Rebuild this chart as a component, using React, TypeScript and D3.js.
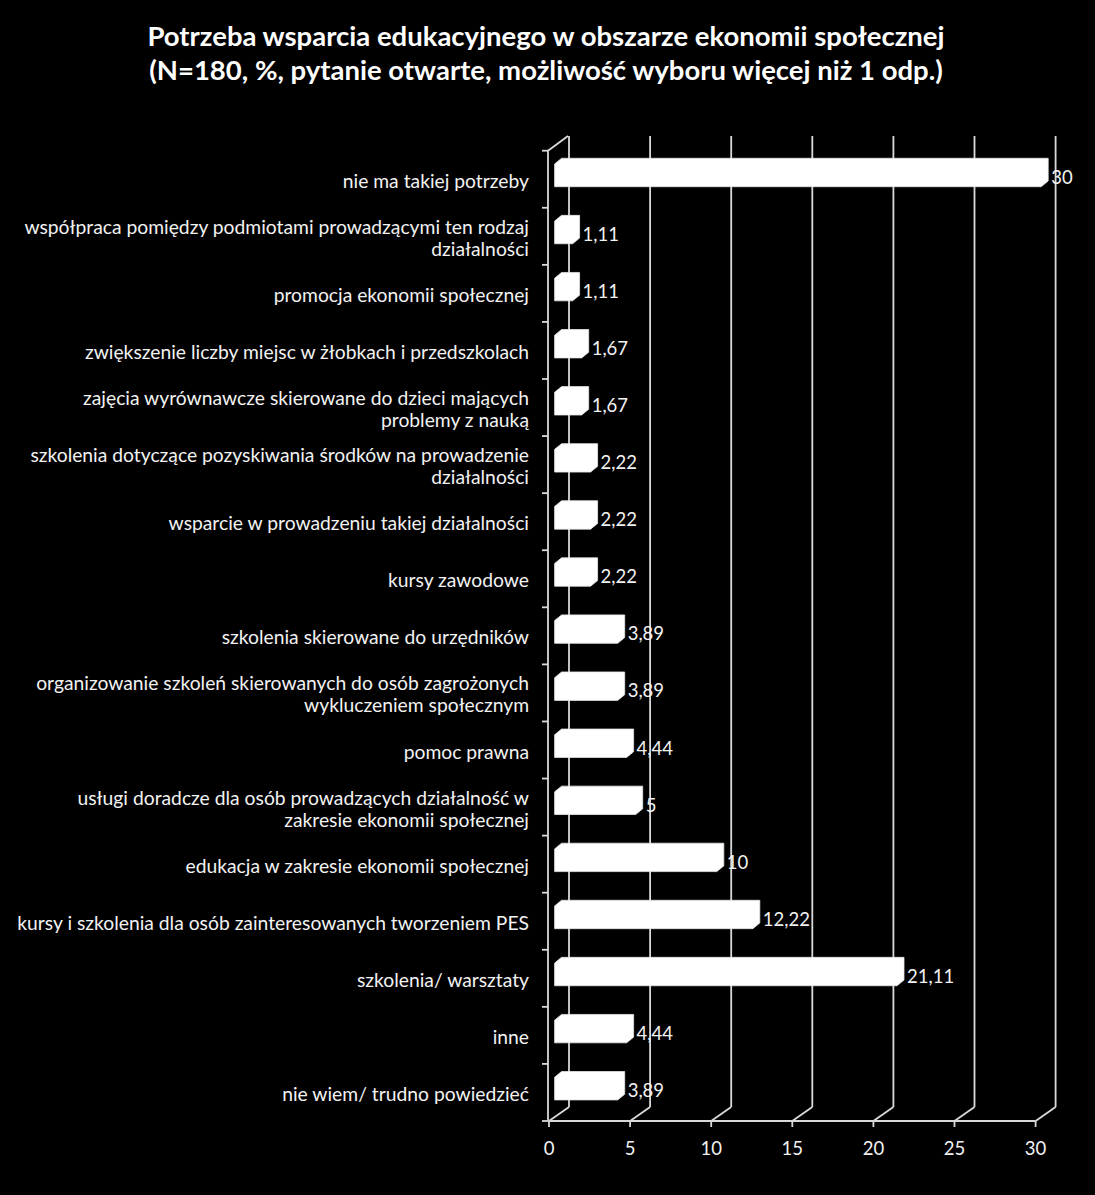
import React from "react";
import * as d3 from "d3";

const categories: string[][] = [
  ["nie ma takiej potrzeby"],
  ["współpraca pomiędzy podmiotami prowadzącymi ten rodzaj", "działalności"],
  ["promocja ekonomii społecznej"],
  ["zwiększenie liczby miejsc w żłobkach i przedszkolach"],
  ["zajęcia wyrównawcze skierowane do dzieci mających", "problemy z nauką"],
  ["szkolenia dotyczące pozyskiwania środków na prowadzenie", "działalności"],
  ["wsparcie w prowadzeniu takiej działalności"],
  ["kursy zawodowe"],
  ["szkolenia skierowane do urzędników"],
  ["organizowanie szkoleń skierowanych do osób zagrożonych", "wykluczeniem społecznym"],
  ["pomoc prawna"],
  ["usługi doradcze dla osób prowadzących działalność w", "zakresie ekonomii społecznej"],
  ["edukacja w zakresie ekonomii społecznej"],
  ["kursy i szkolenia dla osób zainteresowanych tworzeniem PES"],
  ["szkolenia/ warsztaty"],
  ["inne"],
  ["nie wiem/ trudno powiedzieć"],
];
const values: number[] = [30, 1.11, 1.11, 1.67, 1.67, 2.22, 2.22, 2.22, 3.89, 3.89, 4.44, 5, 10, 12.22, 21.11, 4.44, 3.89];
const xTicks: number[] = [0, 5, 10, 15, 20, 25, 30];
const titleLines: string[] = [
  "Potrzeba wsparcia edukacyjnego w obszarze ekonomii społecznej",
  "(N=180, %, pytanie otwarte, możliwość wyboru więcej niż 1 odp.)",
];

const W = 1095;
const H = 1195;
const FONT = "Lato, 'Noto Sans', sans-serif";

export default function App() {
  const x = d3.scaleLinear().domain([0, 30]).range([549, 1035.6]);
  const keys = categories.map((_, i) => String(i));
  const y = d3.scaleBand<string>().domain(keys).range([150.7, 1121]).padding(0);
  const bw = y.bandwidth();
  const depthX = 20;
  const depthY = 14;
  const floorY = 1121;
  const topY = 136;
  const gridColor = "#d9d9d9";
  const textColor = "#f2f2f2";

  const frontDX = 5.6, frontDY = 3.9;
  const backDX = 12.6, backDY = 9.6;
  const barH = 22.7;

  const fmt = (v: number) => String(v).replace(".", ",");

  return (
    <svg width={W} height={H} style={{ display: "block", position: "absolute", left: 0, top: 0, background: "#000" }}>
      <rect x={0} y={0} width={W} height={H} fill="#000" />
      {/* title */}
      {titleLines.map((t, i) => (
        <text key={i} x={546} y={46 + i * 34} textAnchor="middle" fill="#ffffff" fontFamily={FONT} fontWeight="bold" fontSize={27.5}>
          {t}
        </text>
      ))}
      {/* gridlines: front diag + back vertical */}
      {xTicks.map((t) => (
        <g key={t}>
          <line x1={x(t)} y1={floorY} x2={x(t) + depthX} y2={floorY - depthY} stroke={gridColor} strokeWidth={1.8} />
          <line x1={x(t) + depthX} y1={floorY - depthY} x2={x(t) + depthX} y2={topY} stroke={gridColor} strokeWidth={1.8} />
          <line x1={x(t)} y1={floorY} x2={x(t)} y2={floorY + 6} stroke={gridColor} strokeWidth={1.8} />
          <text x={x(t)} y={1155} textAnchor="middle" fill={textColor} fontFamily={FONT} fontSize={18.5}>
            {t}
          </text>
        </g>
      ))}
      {/* bottom axis */}
      <line x1={x(0)} y1={floorY} x2={x(30)} y2={floorY} stroke={gridColor} strokeWidth={1.8} />
      {/* left axis */}
      <line x1={x(0) - 1} y1={y.range()[0]} x2={x(0) - 1} y2={floorY} stroke={gridColor} strokeWidth={1.8} />
      <line x1={x(0) - 1} y1={y.range()[0]} x2={x(0) - 1 + depthX} y2={topY} stroke={gridColor} strokeWidth={1.8} />
      {keys.map((k) => (
        <line key={k} x1={x(0) - 7} y1={y(k)!} x2={x(0) - 1} y2={y(k)!} stroke={gridColor} strokeWidth={1.8} />
      ))}
      <line x1={x(0) - 7} y1={floorY} x2={x(0) - 1} y2={floorY} stroke={gridColor} strokeWidth={1.8} />
      {/* bars */}
      {keys.map((k, i) => {
        const c = y(k)! + bw / 2;
        const ft = c - barH / 2 - frontDY;
        const fb = c + barH / 2 - frontDY;
        const x0 = x(0) + frontDX;
        const x1 = x(values[i]) + frontDX;
        const ddx = backDX - frontDX;
        const ddy = backDY - frontDY;
        const pts: [number, number][] = [
          [x0, fb],
          [x0, ft],
          [x0 + ddx, ft - ddy],
          [x1 + ddx, ft - ddy],
          [x1 + ddx, fb - ddy],
          [x1, fb],
        ];
        return (
          <g key={k}>
            <polygon points={pts.map((p) => p.join(",")).join(" ")} fill="#ffffff" stroke="#e6e6e6" strokeWidth={0.8} />
            <text x={x1 + ddx + 3} y={c + 4.5} fill={textColor} fontFamily={FONT} fontSize={18.5}>
              {fmt(values[i])}
            </text>
          </g>
        );
      })}
      {/* category labels */}
      {keys.map((k, i) => {
        const c = y(k)! + bw / 2;
        const lines = categories[i];
        const base = lines.length === 1 ? c + 8.5 : c - 2.5;
        return (
          <text key={k} textAnchor="end" fill={textColor} fontFamily={FONT} fontSize={19.3}>
            {lines.map((l, j) => (
              <tspan key={j} x={529} y={base + j * 22}>
                {l}
              </tspan>
            ))}
          </text>
        );
      })}
    </svg>
  );
}
